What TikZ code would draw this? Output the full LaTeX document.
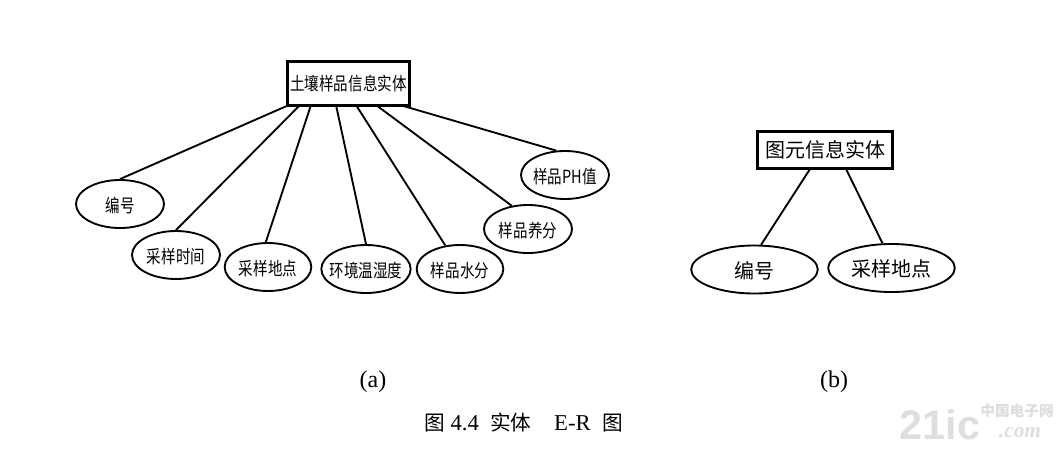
\documentclass[tikz,border=0pt]{standalone}
\usepackage{fontspec}
\setmainfont{Liberation Serif}
\newfontfamily\wmsans{Liberation Sans}
\newfontfamily\cjk{Noto Sans CJK SC}
\newfontfamily\cjknarrow[FakeStretch=0.8]{Noto Sans CJK SC}
\usetikzlibrary{shapes.geometric}
\tikzset{
  attr/.style={ellipse,draw,line width=1.4pt,inner sep=-9pt,fill=white,minimum width=#1,minimum height=36pt},
  ent/.style={rectangle,draw,line width=2.2pt,inner sep=0pt,fill=white},
  link/.style={line width=1.4pt},
  smalltext/.style={font=\cjknarrow\fontsize{13.6}{15}\selectfont},
  lowsmall/.style={smalltext,text height=12.2pt,text depth=0pt},
  bigtext/.style={font=\cjk\fontsize{15}{17}\selectfont},
  lowbig/.style={bigtext,text height=12.8pt,text depth=0pt},
  captext/.style={font=\fontsize{18}{20}\selectfont},
  figtext/.style={font=\fontsize{17}{20}\selectfont},
  wmark/.style={text=black!13}
}
\newcommand{\cjkcap}[1]{{\cjk\fontsize{15.5}{20}\selectfont #1}}
\begin{document}
\begin{tikzpicture}[x=0.75pt,y=-0.75pt]
\useasboundingbox (0,0) rectangle (1058,450);
% part (a)
\node[ent,smalltext,minimum width=92pt,minimum height=33pt] (boxa) at (348.5,83.5) {土壤样品信息实体};
\node[attr=66pt,lowsmall] (e1) at (120,204) {编号};
\node[attr=66pt,lowsmall] (e2) at (176,255) {采样时间};
\node[attr=65pt,lowsmall] (e3) at (268,267) {采样地点};
\node[attr=67pt,lowsmall] (e4) at (366,269) {环境温湿度};
\node[attr=65pt,lowsmall] (e5) at (460,269) {样品水分};
\node[attr=66pt,lowsmall] (e6) at (528,229) {样品养分};
\node[attr=66pt,lowsmall] (e7) at (565,175) {样品PH值};
\coordinate (a1) at (289,105);
\coordinate (a2) at (300,105);
\coordinate (a3) at (311,105);
\coordinate (a4) at (336,105);
\coordinate (a5) at (356,105);
\coordinate (a6) at (376,105);
\coordinate (a7) at (400,105);
\draw[link] (a1) -- (e1.90);
\draw[link] (a2) -- (e2.90);
\draw[link] (a3) -- (e3.95);
\draw[link] (a4) -- (e4.90);
\draw[link] (a5) -- (e5.122);
\draw[link] (a6) -- (e6.125);
\draw[link] (a7) -- (e7.110);
% part (b)
\node[ent,bigtext,minimum width=101pt,minimum height=28pt] (boxb) at (825,150) {图元信息实体};
\node[attr=95pt,lowbig] (b1) at (754.5,269.5) {编号};
\node[attr=95pt,lowbig] (b2) at (891.5,268) {采样地点};
\coordinate (c1) at (810,169);
\coordinate (c2) at (846,169);
\draw[link] (c1) -- (b1.75);
\draw[link] (c2) -- (b2.110);
% captions
\node[captext] (la) at (373,381.5) {(a)};
\node[captext] (lb) at (834,381.5) {(b)};
\node[figtext] (fig) at (523.5,423) {\cjkcap{图} 4.4\ \ \cjkcap{实体}\ \ \ \ E-R\ \ \cjkcap{图}};
% watermark
\node[wmark,font=\wmsans\bfseries\fontsize{31}{32}\selectfont] (wm1) at (940,425) {21ic};
\node[wmark,font=\cjk\bfseries\fontsize{11}{12}\selectfont] (wm2) at (1017,411) {中国电子网};
\node[wmark,font=\itshape\bfseries\fontsize{16}{16}\selectfont] (wm3) at (1020,433) {.com};
\end{tikzpicture}
\end{document}
